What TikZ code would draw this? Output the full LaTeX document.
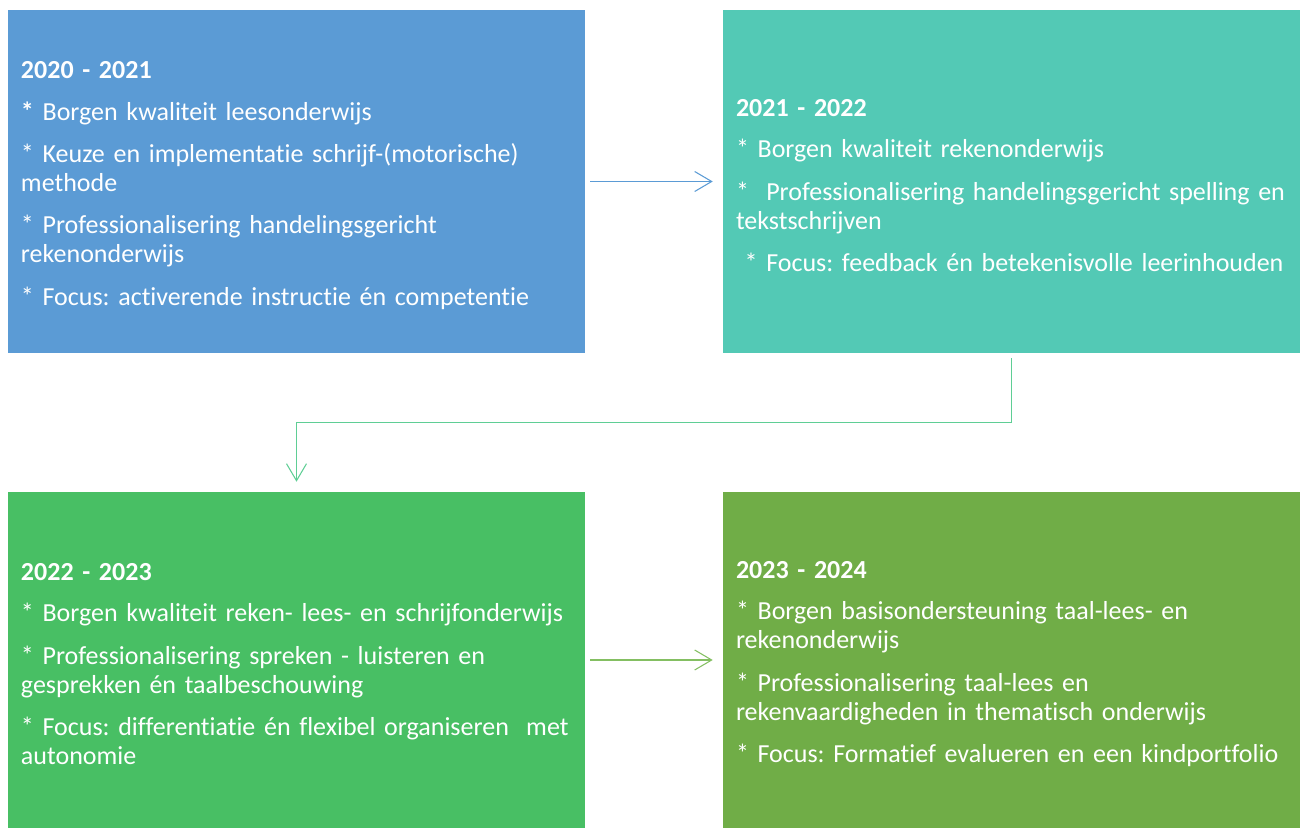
\documentclass[tikz,border=0pt]{standalone}
\usepackage{fontspec}
\setmainfont{Carlito}[Ligatures=NoCommon]
\usetikzlibrary{arrows.meta}
\definecolor{boxblue}{HTML}{5B9BD5}
\definecolor{boxteal}{HTML}{53C9B5}
\definecolor{boxgreen}{HTML}{48BF64}
\definecolor{boxolive}{HTML}{70AD47}
\definecolor{linkblue}{HTML}{5B9BD5}
\definecolor{linkteal}{HTML}{5FCE95}
\definecolor{linkolive}{HTML}{84BF62}
\frenchspacing
\hyphenpenalty=10000

\begin{document}
\begin{tikzpicture}[x=0.75pt,y=-0.75pt,
  year/.style={fill=#1, text=white, minimum width=432.75pt,
               minimum height=257.25pt, text width=413.25pt,
               inner xsep=9.75pt, inner ysep=0pt, align=left,
               font=\fontsize{19.5}{21.75}\selectfont},
  link/.style={draw=#1, line width=0.8pt,
               -{Straight Barb[length=12.75pt,width=15pt,line width=0.8pt]},
               shorten <=3.75pt, shorten >=7.5pt}]
\useasboundingbox (0,0) rectangle (1304,828);

\node[year=boxblue] (y2020) at (296.5,181.5)
  {\rule{0pt}{18.5pt}\textbf{2020 - 2021}\\[9.5pt]
   \textbf{*} Borgen kwaliteit leesonderwijs\\[10pt]
   * Keuze en implementatie schrijf-(motorische)\\ methode\\[10pt]
   * Professionalisering handelingsgericht\\ rekenonderwijs\\[10pt]
   * Focus: activerende instructie én competentie};
\node[year=boxteal] (y2021) at (1011.5,181.5)
  {\rule{0pt}{18.5pt}\textbf{2021 - 2022}\\[9.5pt]
   * Borgen kwaliteit rekenonderwijs\\[10pt]
   *\ \ Professionalisering handelingsgericht spelling en\\ tekstschrijven\\[10pt]
   \ * Focus: feedback én betekenisvolle leerinhouden};
\node[year=boxgreen, minimum height=252pt] (y2022) at (296.5,660)
  {\rule{0pt}{18.5pt}\textbf{2022 - 2023}\\[9.5pt]
   * Borgen kwaliteit reken- lees- en schrijfonderwijs\\[10pt]
   * Professionalisering spreken - luisteren en\\ gesprekken én taalbeschouwing\\[10pt]
   * Focus: differentiatie én flexibel organiseren\ \ met\\ autonomie};
\node[year=boxolive, minimum height=252pt] (y2023) at (1011.5,660)
  {\rule{0pt}{18.5pt}\textbf{2023 - 2024}\\[9.5pt]
   * Borgen basisondersteuning taal-lees- en\\ rekenonderwijs\\[10pt]
   * Professionalisering taal-lees en\\ rekenvaardigheden in thematisch onderwijs\\[10pt]
   * Focus: Formatief evalueren en een kindportfolio};

% links between the school years
\draw[link=linkblue] (y2020.east) -- (y2021.west);
\draw[link=linkteal] (y2021.south) -- ++(0,69) -| (y2022.north);
\draw[link=linkolive] (y2022.east) -- (y2023.west);
\end{tikzpicture}
\end{document}
